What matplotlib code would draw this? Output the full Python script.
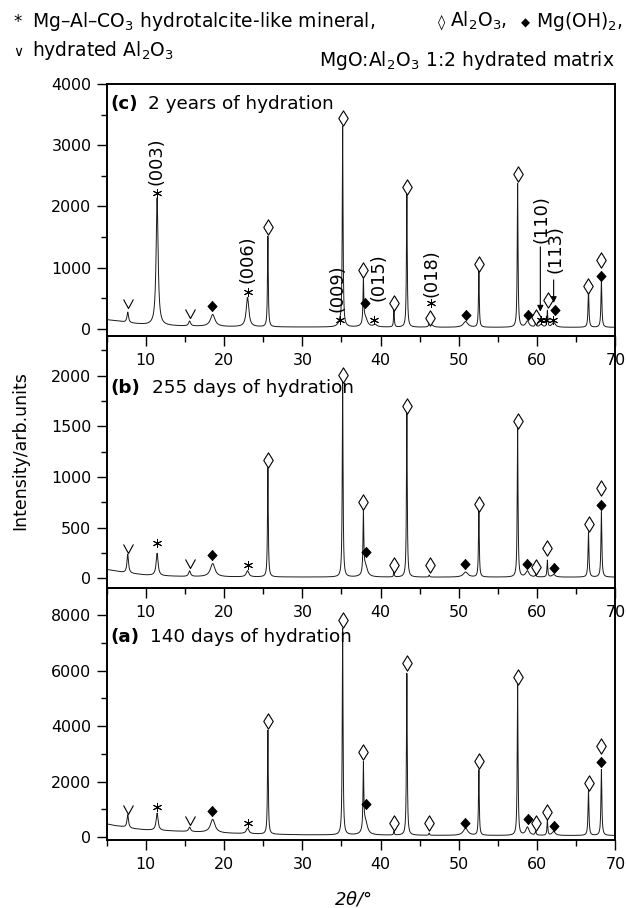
import numpy as np
import matplotlib
matplotlib.use('Agg')
import matplotlib.pyplot as plt
from matplotlib.path import Path
from matplotlib.ticker import MultipleLocator

plt.rcParams['font.family'] = ['DejaVu Sans']
plt.rcParams['mathtext.fontset'] = 'dejavusans'

# peak table (2theta, half width) shared by the three patterns
peak_pos = [7.7, 11.45, 15.6, 18.55, 23.0, 25.6, 34.8, 35.15, 37.8, 38.05, 39.3, 41.7, 43.35,
            46.2, 46.5, 50.85, 52.55, 57.5, 58.75, 59.8, 60.5, 61.3, 62.1, 66.55, 68.2]
peak_hw = [0.12, 0.15, 0.15, 0.35, 0.2, 0.06, 0.25, 0.06, 0.06, 0.3, 0.25, 0.06, 0.06,
           0.06, 0.25, 0.35, 0.06, 0.06, 0.25, 0.08, 0.2, 0.06, 0.25, 0.07, 0.07]

# peak heights above background
heights_c = [170, 2080, 80, 195, 480, 1480, 70, 3250, 730, 150, 40, 270, 2180,
             60, 40, 95, 910, 2350, 100, 70, 50, 270, 80, 610, 770]
heights_b = [185, 220, 55, 130, 60, 1075, 0, 1945, 600, 110, 0, 45, 1625,
             20, 0, 50, 665, 1475, 60, 20, 0, 165, 25, 445, 645]
heights_a = [470, 620, 160, 480, 195, 3750, 0, 7430, 2350, 500, 0, 130, 5830,
             80, 0, 260, 2360, 5420, 300, 140, 0, 560, 140, 1640, 2370]

# background points
bg_x = [5, 6, 7, 8, 10, 12, 15, 20, 25, 30, 40, 50, 60, 70]
bg_c = [150, 135, 115, 95, 68, 55, 45, 36, 32, 30, 28, 25, 25, 25]
bg_b = [88, 75, 60, 50, 33, 25, 18, 15, 14, 13, 12, 12, 12, 12]
bg_a = [480, 420, 380, 320, 263, 240, 205, 145, 110, 85, 72, 62, 60, 60]

# phase markers (2theta, intensity)
c_open = [(25.6, 1670), (35.15, 3440), (37.75, 955), (41.75, 430), (43.35, 2325), (46.35, 180),
          (52.6, 1060), (57.55, 2530), (59.8, 200), (61.35, 465), (66.5, 695), (68.2, 1130)]
c_fill = [(18.5, 375), (38.0, 425), (50.85, 230), (58.8, 230), (62.25, 315), (68.2, 860)]
c_star = [(11.4, 2225), (23.0, 610), (34.8, 150), (39.1, 150), (46.45, 420),
          (60.5, 140), (61.1, 140), (62.0, 140)]
c_hyd = [(7.7, 338), (15.6, 174)]

b_open = [(25.6, 1168), (35.15, 2007), (37.8, 750), (41.7, 131), (43.35, 1700), (46.3, 131),
          (52.6, 733), (57.5, 1556), (59.8, 115), (61.3, 296), (66.6, 536), (68.2, 888)]
b_fill = [(18.5, 230), (38.1, 263), (50.8, 138), (58.7, 141), (62.1, 99), (68.2, 723)]
b_star = [(11.4, 345), (23.0, 131)]
b_hyd = [(7.7, 247), (15.6, 99)]

a_open = [(25.6, 4185), (35.15, 7820), (37.8, 3080), (41.7, 504), (43.35, 6260), (46.2, 504),
          (52.55, 2745), (57.5, 5780), (59.8, 504), (61.3, 922), (66.6, 1943), (68.2, 3296)]
a_fill = [(18.5, 958), (38.1, 1198), (50.8, 526), (58.8, 648), (62.1, 418), (68.2, 2720)]
a_star = [(11.4, 1080), (23.0, 504)]
a_hyd = [(7.7, 828), (15.6, 443)]

# Miller indices of the hydrotalcite reflections in (c): (label, x, bottom)
hkl_c = [('(003)', 11.4, 2350), ('(006)', 23.0, 750), ('(009)', 34.5, 270),
         ('(015)', 39.75, 450), ('(018)', 46.55, 525), ('(110)', 60.55, 1400),
         ('(113)', 62.3, 910)]
arrows_c = [(60.4, 1340, 283), (62.1, 800, 424)]

lozenge = Path([(0, 1), (0.62, 0), (0, -1), (-0.62, 0), (0, 1)], closed=True)
diamond = Path([(0, 1), (0.9, 0), (0, -1), (-0.9, 0), (0, 1)], closed=True)
vee = Path([(-0.55, 1), (0, 0), (0.55, 1)], [Path.MOVETO, Path.LINETO, Path.LINETO])


def pattern(x, heights, bg):
    y = np.interp(x, bg_x, bg)
    for p, w, h in zip(peak_pos, peak_hw, heights):
        y = y + h / (1 + ((x - p) / w) ** 2)
    return y


def draw_marks(ax, opn, fill, star, hyd):
    xs, ys = zip(*opn)
    ax.plot(xs, ys, ls='none', marker=lozenge, ms=11, mfc='white', mec='k', mew=0.8, zorder=4)
    xs, ys = zip(*fill)
    ax.plot(xs, ys, ls='none', marker=diamond, ms=7.5, mfc='k', mec='k', mew=0.5, zorder=4)
    xs, ys = zip(*star)
    ax.plot(xs, ys, ls='none', marker=(6, 2, 0), ms=6.5, mec='k', mew=0.7, zorder=4)
    xs, ys = zip(*hyd)
    ax.plot(xs, ys, ls='none', marker=vee, ms=13, mfc='none', mec='k', mew=0.8, zorder=4)


def style(ax, ylim, major, minor):
    ax.set_xlim(5, 70)
    ax.set_ylim(*ylim)
    ax.xaxis.set_major_locator(MultipleLocator(10))
    ax.xaxis.set_minor_locator(MultipleLocator(5))
    ax.yaxis.set_major_locator(MultipleLocator(major))
    ax.yaxis.set_minor_locator(MultipleLocator(minor))
    ax.tick_params(which='both', direction='out', width=1.0, labelsize=11.4)
    ax.tick_params(which='major', length=7)
    ax.tick_params(which='minor', length=4.5)
    ax.tick_params(axis='x', pad=5)
    ax.tick_params(axis='y', pad=4)
    for s in ax.spines.values():
        s.set_linewidth(1.4)
    ax.patch.set_visible(False)


x = np.arange(5, 70.001, 0.01)

fig = plt.figure(figsize=(6.26, 9.08), dpi=100)
ax_a = fig.add_axes([0.1703, 0.0749, 0.8129, 0.2775])
ax_b = fig.add_axes([0.1703, 0.3524, 0.8129, 0.2775])
ax_c = fig.add_axes([0.1703, 0.6300, 0.8129, 0.2775])

panels = [
    (ax_c, heights_c, bg_c, (c_open, c_fill, c_star, c_hyd), (-115, 4000), 1000, 500,
     '(c)', '2 years of hydration', 0.9008, 0.0814),
    (ax_b, heights_b, bg_b, (b_open, b_fill, b_star, b_hyd), (-95, 2390), 500, 250,
     '(b)', '255 days of hydration', 0.774, 0.0885),
    (ax_a, heights_a, bg_a, (a_open, a_fill, a_star, a_hyd), (-100, 8970), 2000, 1000,
     '(a)', '140 days of hydration', 0.787, 0.0855),
]

for ax, h, bg, marks, ylim, major, minor, tag, label, ty, tx in panels:
    ax.plot(x, pattern(x, h, bg), color='#1a1a1a', lw=0.7)
    draw_marks(ax, *marks)
    style(ax, ylim, major, minor)
    ax.text(0.0067, ty, tag, transform=ax.transAxes, fontsize=13.2, fontweight='bold',
            va='baseline', ha='left')
    ax.text(tx, ty, label, transform=ax.transAxes, fontsize=13.2, va='baseline', ha='left')

for lab, xx, yy in hkl_c:
    ax_c.text(xx, yy, lab, rotation=90, ha='center', va='bottom', fontsize=12.8)
for xx, y0, y1 in arrows_c:
    ax_c.annotate('', xy=(xx, y1), xytext=(xx, y0),
                  arrowprops=dict(arrowstyle='-|>', color='k', lw=0.8, mutation_scale=9,
                                  shrinkA=0, shrinkB=0))

# header legend
W, H = 626.0, 908.0
renderer = fig.canvas.get_renderer()


def row_right(pieces, x_right, y_px):
    # pieces: (text, fontsize, gap before it in px); laid out right to left
    xr = x_right
    for txt, fs, gap in reversed(pieces):
        t = fig.text(xr / W, 1 - y_px / H, txt, fontsize=fs, ha='right', va='baseline')
        xr -= t.get_window_extent(renderer).width + gap


fig.text(13 / W, 1 - 27 / H, '*', fontsize=12, va='baseline')
fig.text(32 / W, 1 - 27 / H, 'Mg\u2013Al\u2013CO$_3$ hydrotalcite-like mineral,', fontsize=13.5, va='baseline')
row_right([('\u25ca', 10.5, 0), ('Al$_2$O$_3$,', 13.5, 5), ('\u25c6', 8.5, 14),
           ('Mg(OH)$_2$,', 13.5, 6)], 623, 27)
fig.text(13 / W, 1 - 56 / H, '\u2228', fontsize=10, va='baseline')
fig.text(32 / W, 1 - 56 / H, 'hydrated Al$_2$O$_3$', fontsize=13.5, va='baseline')
fig.text(615 / W, 1 - 66 / H, 'MgO:Al$_2$O$_3$ 1:2 hydrated matrix', fontsize=13.5,
         ha='right', va='baseline')

fig.text(20 / W, 1 - 451 / H, 'Intensity/arb.units', rotation=90, fontsize=12.5,
         ha='center', va='center')
fig.text(353 / W, 1 - 899 / H, '2$\\theta$/\u00b0', fontsize=13, style='italic',
         ha='center', va='center')

fig.savefig('out.png', dpi=100)
